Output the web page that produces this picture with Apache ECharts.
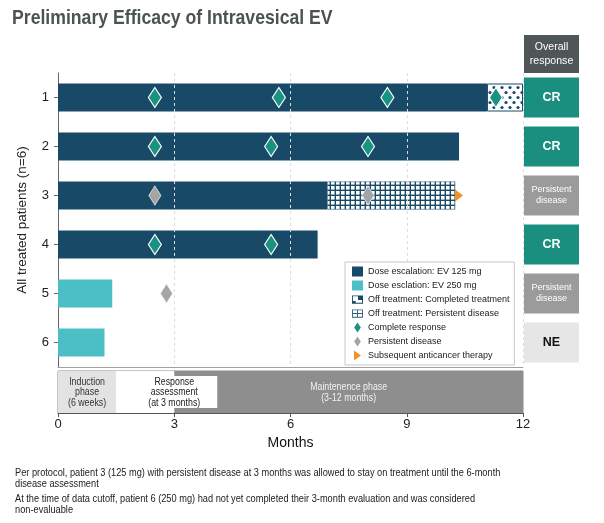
<!DOCTYPE html>
<html><head><meta charset="utf-8">
<script src="https://cdn.jsdelivr.net/npm/echarts@6/dist/echarts.min.js"></script>
<style>html,body{margin:0;padding:0;background:#fff}#c{width:604px;height:523px}</style>
</head><body><div id="c"></div>
<script>
const FONT = '"Liberation Sans",Arial,sans-serif';

// ---- data ----
const patients = ['1', '2', '3', '4', '5', '6'];
const dose125 = [11.07, 10.35, 6.95, 6.7, null, null];      // months on treatment, EV 125 mg
const dose250 = [null, null, null, null, 1.4, 1.2];          // months on treatment, EV 250 mg
const offCompleted = [0.93, null, null, null, null, null];   // off treatment: completed treatment
const offPersistent = [null, null, 3.3, null, null, null];   // off treatment: persistent disease
const crPoints = [[2.5, '1'], [5.7, '1'], [8.5, '1'], [11.3, '1'], [2.5, '2'], [5.5, '2'], [8.0, '2'], [2.5, '4'], [5.5, '4']];
const pdPoints = [[2.5, '3'], [8.0, '3'], [2.8, '5']];
const subsequentPoints = [[10.35, '3']];
const responses = ['CR', 'CR', 'Persistent disease', 'CR', 'Persistent disease', 'NE'];
const phaseNames = ['Induction\nphase\n(6 weeks)', 'Response\nassessment\n(at 3 months)', 'Maintenence phase\n(3-12 months)'];
const phaseStart = [0, 1.5, 3];
const phaseEnd = [1.5, 3, 12];
const phaseLabelAt = [0.75, 3, 7.5];
const monthTicks = [0, 3, 6, 9, 12];
const titleText = 'Preliminary Efficacy of Intravesical EV';
const footnotes = [
  'Per protocol, patient 3 (125 mg) with persistent disease at 3 months was allowed to stay on treatment until the 6-month\ndisease assessment',
  'At the time of data cutoff, patient 6 (250 mg) had not yet completed their 3-month evaluation and was considered\nnon-evaluable'
];

// ---- styles ----
const NARROW = 0.84; // horizontal squeeze to imitate the narrow face of the original
const NAVY = '#184a68', TEAL_L = '#4bbfc5', CR_C = '#1a9282', PD_C = '#a4a4a4', ORANGE = '#f39220';
const respColor = { 'CR': '#1a8f80', 'Persistent disease': '#9b9b9b', 'NE': '#e6e6e6' };
const phaseFill = ['#e3e3e3', '#ffffff', '#8e8e8e'];
const phaseText = ['#333', '#222', '#f2f2f2'];

function dotPattern() {
  const c = document.createElement('canvas'); c.width = 8; c.height = 10;
  const g = c.getContext('2d'); g.fillStyle = '#fff'; g.fillRect(0, 0, 8, 10);
  g.fillStyle = NAVY;
  [[2, 2.5], [6, 7.5]].forEach(p => { g.beginPath(); g.arc(p[0], p[1], 1.6, 0, Math.PI * 2); g.fill(); });
  return c;
}
function gridPattern() {
  const c = document.createElement('canvas'); c.width = 5; c.height = 5;
  const g = c.getContext('2d'); g.fillStyle = NAVY; g.fillRect(0, 0, 5, 5);
  g.fillStyle = '#fff'; g.fillRect(1, 1, 3.6, 3.6);
  return c;
}

const chart = echarts.init(document.getElementById('c'), null, { renderer: 'canvas' });
const GRID_TOP = 73, GRID_BOTTOM_Y = 367;

const option = {
  animation: false,
  textStyle: { fontFamily: FONT },
  legend: {
    orient: 'vertical', left: 345, top: 262, z: 10,
    itemGap: 3, itemWidth: 11, itemHeight: 10,
    padding: [4, 5, 4, 7], backgroundColor: '#fff', borderColor: '#c8c8c8', borderWidth: 1,
    textStyle: { fontFamily: FONT, fontSize: 9, color: '#222', lineHeight: 11 },
    data: [
      { name: 'Dose escalation: EV 125 mg', icon: 'rect', itemStyle: { color: NAVY, borderWidth: 0 } },
      { name: 'Dose esclation: EV 250 mg', icon: 'rect', itemStyle: { color: TEAL_L, borderWidth: 0 } },
      { name: 'Off treatment: Completed treatment', icon: 'path://M0,0H12V9H0Z M1,1V8H11V1Z M6.5,1H11V5H6.5Z M1,6H4V8H1Z', itemStyle: { color: NAVY, borderWidth: 0 } },
      { name: 'Off treatment: Persistent disease', icon: 'path://M0,0H12V9H0Z M1,1V4H5.5V1Z M6.5,1V4H11V1Z M1,5V8H5.5V5Z M6.5,5V8H11V5Z', itemStyle: { color: '#2d5f80', borderWidth: 0 } },
      { name: 'Complete response', icon: 'path://M4,0L8,6L4,12L0,6Z', itemStyle: { color: CR_C, borderWidth: 0 } },
      { name: 'Persistent disease', icon: 'path://M4,0L8,6L4,12L0,6Z', itemStyle: { color: PD_C, borderWidth: 0 } },
      { name: 'Subsequent anticancer therapy', icon: 'path://M0,0L7,5L0,10Z', itemStyle: { color: ORANGE, borderWidth: 0 } }
    ]
  },
  grid: [
    { left: 58, width: 465, top: GRID_TOP, height: GRID_BOTTOM_Y - GRID_TOP },
    { left: 58, width: 465, top: 371, height: 42, show: true, borderColor: '#8a8a8a', borderWidth: 1 },
    { left: 524, width: 55, top: GRID_TOP, height: GRID_BOTTOM_Y - GRID_TOP }
  ],
  xAxis: [
    { gridIndex: 0, type: 'value', min: 0, max: 12, interval: 3, axisLabel: { show: false }, axisTick: { show: false },
      splitLine: { show: false }, axisLine: { show: true, onZero: false, lineStyle: { color: '#a0a0a0' } } },
    { gridIndex: 1, type: 'value', min: 0, max: 12, interval: 3, splitLine: { show: false },
      axisLine: { show: true, onZero: false, lineStyle: { color: '#555' } },
      axisTick: { show: true, length: 4, lineStyle: { color: '#555' } },
      axisLabel: { fontFamily: FONT, fontSize: 13, color: '#222', margin: 5,
        formatter: v => monthTicks.indexOf(v) >= 0 ? String(v) : '' },
      name: 'Months', nameLocation: 'middle', nameGap: 23,
      nameTextStyle: { fontFamily: FONT, fontSize: 14, color: '#111' } },
    { gridIndex: 2, type: 'value', min: 0, max: 1, show: false }
  ],
  yAxis: [
    { gridIndex: 0, type: 'category', data: patients, inverse: true,
      axisLine: { show: true, lineStyle: { color: '#666' } },
      axisTick: { show: true, length: 4, alignWithLabel: true, lineStyle: { color: '#666' } },
      axisLabel: { fontFamily: FONT, fontSize: 13, color: '#222', margin: 9 },
      name: 'All treated patients (n=6)', nameLocation: 'middle', nameGap: 29, nameRotate: 90,
      nameTextStyle: { fontFamily: FONT, fontSize: 13.5, color: '#222' } },
    { gridIndex: 1, type: 'category', data: ['phase'], show: false },
    { gridIndex: 2, type: 'category', data: patients, inverse: true, show: false }
  ],
  series: [
    { name: 'Dose escalation: EV 125 mg', type: 'bar', stack: 'p', xAxisIndex: 0, yAxisIndex: 0, barWidth: 28, z: 2,
      itemStyle: { color: NAVY }, data: dose125 },
    { name: 'Dose esclation: EV 250 mg', type: 'bar', stack: 'p', xAxisIndex: 0, yAxisIndex: 0, barWidth: 28, z: 2,
      itemStyle: { color: TEAL_L }, data: dose250 },
    { name: 'Off treatment: Completed treatment', type: 'bar', stack: 'p', xAxisIndex: 0, yAxisIndex: 0, barWidth: 28, z: 2,
      itemStyle: { color: { image: dotPattern(), repeat: 'repeat' }, borderColor: NAVY, borderWidth: 1 }, data: offCompleted },
    { name: 'Off treatment: Persistent disease', type: 'bar', stack: 'p', xAxisIndex: 0, yAxisIndex: 0, barWidth: 28, z: 2,
      itemStyle: { color: { image: gridPattern(), repeat: 'repeat' }, borderColor: NAVY, borderWidth: 0.5 }, data: offPersistent },
    { name: 'Complete response', type: 'scatter', xAxisIndex: 0, yAxisIndex: 0, z: 6,
      symbol: 'diamond', symbolSize: [13, 20],
      itemStyle: { color: CR_C, borderColor: '#fff', borderWidth: 1.2, opacity: 1 }, data: crPoints,
      markLine: { silent: true, symbol: 'none', z: 5, label: { show: false },
        lineStyle: { type: [3, 3], color: '#dcdcdc', width: 1 },
        data: [{ xAxis: 3 }, { xAxis: 6 }, { xAxis: 9 }, { xAxis: 12 }] } },
    { name: 'Persistent disease', type: 'scatter', xAxisIndex: 0, yAxisIndex: 0, z: 6,
      symbol: 'diamond', symbolSize: [12, 19],
      itemStyle: { color: PD_C, borderColor: '#e8e8e8', borderWidth: 0.8, opacity: 1 }, data: pdPoints },
    { name: 'Subsequent anticancer therapy', type: 'scatter', xAxisIndex: 0, yAxisIndex: 0, z: 6,
      symbol: 'path://M0,0L8,6L0,12Z', symbolSize: [8, 12],
      itemStyle: { color: ORANGE, opacity: 1 }, data: subsequentPoints },
    { name: 'Overall response', type: 'bar', xAxisIndex: 2, yAxisIndex: 2, barWidth: 40, silent: true,
      data: responses.map(r => ({
        value: 1, itemStyle: { color: respColor[r] },
        label: {
          show: true, position: 'inside', formatter: r === 'Persistent disease' ? 'Persistent\ndisease' : r,
          fontFamily: FONT, fontSize: r === 'Persistent disease' ? 9 : 12.5,
          fontWeight: r === 'Persistent disease' ? 'normal' : 'bold',
          color: r === 'NE' ? '#111' : '#fff', lineHeight: 11
        }
      })) },
    { name: 'Phases', type: 'custom', xAxisIndex: 1, yAxisIndex: 1, silent: true,
      data: phaseNames.map((n, i) => [phaseStart[i], phaseEnd[i], phaseLabelAt[i]]),
      renderItem: function (params, api) {
        const i = params.dataIndex;
        const s = api.coord([api.value(0), 0]);
        const e = api.coord([api.value(1), 0]);
        const l = api.coord([api.value(2), 0]);
        const h = api.size([0, 1])[1];
        const top = s[1] - h / 2;
        const children = [{ type: 'rect', shape: { x: s[0], y: top, width: e[0] - s[0], height: h }, style: { fill: phaseFill[i] }, z2: 1 }];
        if (i === 1) {
          children.push({ type: 'rect', shape: { x: l[0] - 43, y: top + 5, width: 86, height: h - 10 }, style: { fill: '#fff' }, z2: 20 });
        }
        children.push({ type: 'text', x: l[0], y: s[1] + 0.5, z2: 21, scaleX: NARROW,
          style: { text: phaseNames[i], align: 'center', verticalAlign: 'middle', fill: phaseText[i],
            font: '10.5px ' + FONT, lineHeight: 10.5 } });
        return { type: 'group', children: children };
      } }
  ],
  graphic: [
    { type: 'text', x: 12, y: 8, scaleX: NARROW,
      style: { text: titleText, fill: '#4b5354', font: 'bold 21px ' + FONT, verticalAlign: 'top' } },
    { type: 'group', left: 524, top: 35, children: [
      { type: 'rect', shape: { x: 0, y: 0, width: 55, height: 38 }, style: { fill: '#4f5657' } },
      { type: 'text', x: 27.5, y: 19, scaleX: 0.92, style: { text: 'Overall\nresponse', align: 'center', verticalAlign: 'middle', fill: '#fff', font: '11.5px ' + FONT, lineHeight: 14 } }
    ] },
    { type: 'text', x: 15, y: 467, scaleX: NARROW, style: { text: footnotes[0], fill: '#222', font: '11px ' + FONT, lineHeight: 11.5, verticalAlign: 'top' } },
    { type: 'text', x: 15, y: 493, scaleX: NARROW, style: { text: footnotes[1], fill: '#222', font: '11px ' + FONT, lineHeight: 11.5, verticalAlign: 'top' } }
  ]
};
chart.setOption(option);
</script></body></html>
